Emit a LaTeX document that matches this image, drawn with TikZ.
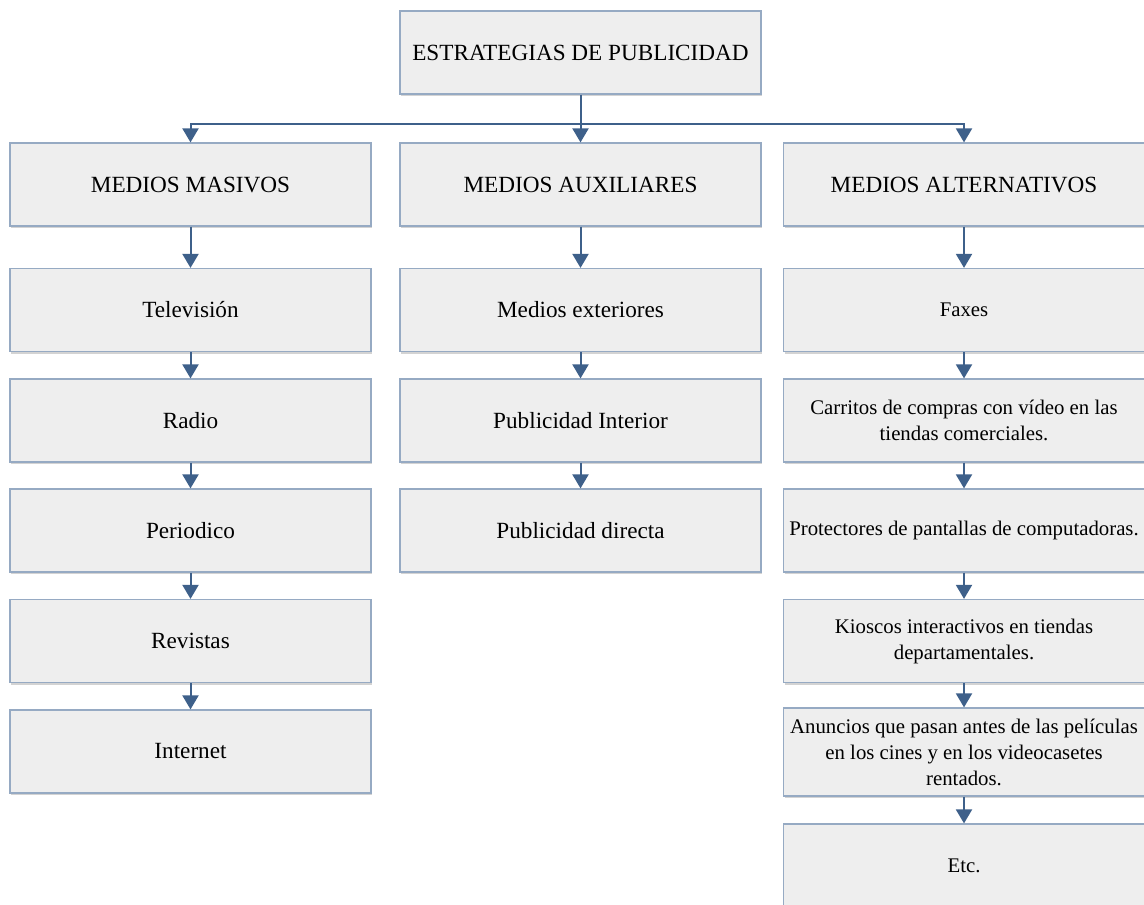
\documentclass[tikz,border=0pt]{standalone}
\usepackage{fontspec}
\setmainfont{Liberation Serif}
\usetikzlibrary{arrows.meta,shadows}
\definecolor{arrowblue}{RGB}{62,96,138}
\definecolor{boxline}{RGB}{150,170,195}
\definecolor{boxfill}{RGB}{238,238,238}

\begin{document}
\begin{tikzpicture}[x=0.5pt,y=-0.5pt,
  box/.style={draw=boxline, line width=0.6pt, fill=boxfill, minimum width=180.5pt,
    minimum height=41.5pt, align=center, inner sep=2pt,
    drop shadow={shadow xshift=0.6pt, shadow yshift=-1.2pt, opacity=0.35},
    font=\fontsize{11.6}{14}\selectfont},
  smallbox/.style={box, font=\fontsize{10.4}{13}\selectfont},
  conn/.style={draw=arrowblue, line width=1pt, -{Triangle[width=8pt,length=7pt]}}]
\useasboundingbox (0,0) rectangle (1144,904);
\small
\node[box] (estrategias) at (580.5,52.5) {ESTRATEGIAS DE PUBLICIDAD};

% primer nivel
\node[box] (masivos) at (190.5,184.5) {MEDIOS MASIVOS};
\node[box] (auxiliares) at (580.5,184.5) {MEDIOS AUXILIARES};
\node[box] (alternativos) at (964,184.5) {MEDIOS ALTERNATIVOS};
\coordinate (bus) at (580.5,124);

% medios masivos
\node[box] (tv) at (190.5,310) {Televisión};
\node[box] (radio) at (190.5,420.5) {Radio};
\node[box] (periodico) at (190.5,530.5) {Periodico};
\node[box] (revistas) at (190.5,641) {Revistas};
\node[box] (internet) at (190.5,751.5) {Internet};

% medios auxiliares
\node[box] (exteriores) at (580.5,310) {Medios exteriores};
\node[box] (interior) at (580.5,420.5) {Publicidad Interior};
\node[box] (directa) at (580.5,530.5) {Publicidad directa};

% medios alternativos
\node[smallbox] (faxes) at (964,310) {Faxes};
\node[smallbox] (carritos) at (964,420.5) {Carritos de compras con vídeo en las\\tiendas comerciales.};
\node[smallbox] (protectores) at (964,530.5) {Protectores de pantallas de computadoras.};
\node[smallbox] (kioscos) at (964,641) {Kioscos interactivos en tiendas\\departamentales.};
\node[smallbox, minimum height=44pt] (anuncios) at (964,752) {Anuncios que pasan antes de las películas\\en los cines y en los videocasetes\\rentados.};
\node[smallbox] (etc) at (964,865.5) {Etc.};

\path[conn] (estrategias) -- (auxiliares);
\path[conn] (estrategias.south |- bus) -| (masivos.north);
\path[conn] (estrategias.south |- bus) -| (alternativos.north);

\path[conn] (masivos) -- (tv);
\path[conn] (tv) -- (radio);
\path[conn] (radio) -- (periodico);
\path[conn] (periodico) -- (revistas);
\path[conn] (revistas) -- (internet);

\path[conn] (auxiliares) -- (exteriores);
\path[conn] (exteriores) -- (interior);
\path[conn] (interior) -- (directa);

\path[conn] (alternativos) -- (faxes);
\path[conn] (faxes) -- (carritos);
\path[conn] (carritos) -- (protectores);
\path[conn] (protectores) -- (kioscos);
\path[conn] (kioscos) -- (anuncios);
\path[conn] (anuncios) -- (etc);
\end{tikzpicture}
\end{document}
